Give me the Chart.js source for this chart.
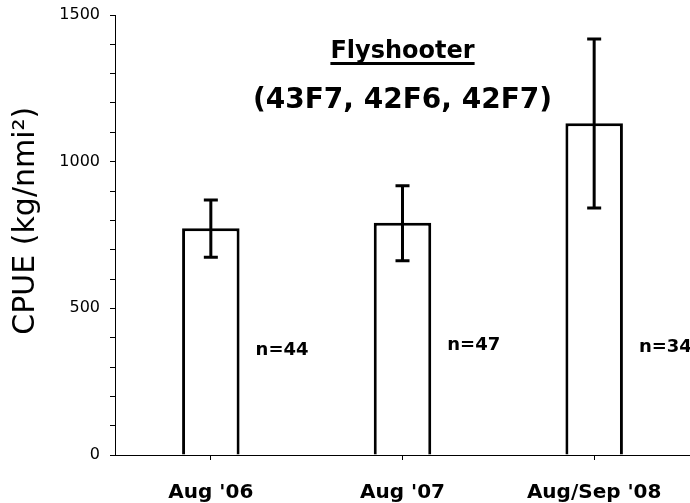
<!DOCTYPE html>
<html>
<head>
<meta charset="utf-8">
<script src="https://cdn.jsdelivr.net/npm/chart.js@4/dist/chart.umd.min.js"></script>
<style>
  html, body { margin: 0; padding: 0; background: #fff; }
  #wrap { width: 690px; height: 503px; }
</style>
</head>
<body>
<div id="wrap"><canvas id="c" width="690" height="503"></canvas></div>
<script>
const categories = ["Aug '06", "Aug '07", "Aug/Sep '08"];
const cpue = [773, 792, 1131];
const errLow = [674, 662, 842];
const errHigh = [869, 918, 1418];
const sampleSizes = [44, 47, 34];
const nLabelY = [358, 375, 366];
const titleLine1 = 'Flyshooter';
const titleLine2 = '(43F7, 42F6, 42F7)';
const yAxisTitle = 'CPUE (kg/nmi\u00B2)';
const yMin = 0, yMax = 1500, yMajor = 500, yMinor = 100;

const annot = {
  id: 'annot',
  afterDatasetsDraw(chart) {
    const { ctx, chartArea, scales: { x, y } } = chart;
    ctx.save();
    // error bars
    ctx.strokeStyle = '#000';
    ctx.lineWidth = 3;
    ctx.lineCap = 'butt';
    cpue.forEach((v, i) => {
      const px = x.getPixelForValue(i);
      const yl = y.getPixelForValue(errLow[i]);
      const yh = y.getPixelForValue(errHigh[i]);
      ctx.beginPath();
      ctx.moveTo(px, yl); ctx.lineTo(px, yh);
      ctx.moveTo(px - 7, yl); ctx.lineTo(px + 7, yl);
      ctx.moveTo(px - 7, yh); ctx.lineTo(px + 7, yh);
      ctx.stroke();
    });
    // sample sizes
    const meta = chart.getDatasetMeta(0);
    ctx.fillStyle = '#000';
    ctx.font = 'bold 18px "DejaVu Sans"';
    ctx.textAlign = 'left';
    ctx.textBaseline = 'middle';
    meta.data.forEach((bar, i) => {
      ctx.fillText('n=' + sampleSizes[i], bar.x + bar.width / 2 + 16, y.getPixelForValue(nLabelY[i]));
    });
    // title
    const cx = (chartArea.left + chartArea.right) / 2;
    ctx.textAlign = 'center';
    ctx.textBaseline = 'alphabetic';
    ctx.font = 'bold 24px "DejaVu Sans"';
    const ty1 = chartArea.top + 43;
    ctx.fillText(titleLine1, cx, ty1);
    const w = ctx.measureText(titleLine1).width;
    ctx.fillRect(cx - w / 2, ty1 + 4, w, 3);
    ctx.font = 'bold 28px "DejaVu Sans"';
    ctx.fillText(titleLine2, cx, chartArea.top + 93);
    ctx.restore();
  }
};

new Chart(document.getElementById('c'), {
  type: 'bar',
  data: {
    labels: categories,
    datasets: [{
      data: cpue,
      backgroundColor: '#fff',
      borderColor: '#000',
      borderWidth: 3,
      borderSkipped: 'start',
      barPercentage: 0.3,
      categoryPercentage: 1.0
    }]
  },
  options: {
    responsive: false,
    animation: false,
    devicePixelRatio: 1,
    layout: { padding: { top: 15, right: 0, bottom: 0, left: 0 } },
    plugins: { legend: { display: false }, tooltip: { enabled: false }, title: { display: false } },
    scales: {
      x: {
        type: 'category',
        offset: true,
        grid: { display: true, offset: false, drawOnChartArea: false, tickLength: 5, color: '#000', lineWidth: 1 },
        border: { display: true, color: '#000', width: 1 },
        ticks: { color: '#000', font: { family: 'DejaVu Sans', size: 20, weight: 'bold' }, padding: 21, maxRotation: 0, autoSkip: false },
        afterFit(s) { s.height = 48; }
      },
      y: {
        min: yMin, max: yMax,
        grid: { display: true, drawOnChartArea: false, tickLength: 5, color: '#000', lineWidth: 1 },
        border: { display: true, color: '#000', width: 1 },
        ticks: {
          stepSize: yMinor, autoSkip: false, color: '#000', padding: 10,
          font: { family: 'DejaVu Sans', size: 16, lineHeight: 0.6 },
          callback: v => (v % yMajor === 0 ? String(v) : '')
        },
        title: { display: true, text: '   ' + yAxisTitle, color: '#000', font: { family: 'DejaVu Sans', size: 30 }, padding: { top: 8, bottom: 0 } },
        afterFit(s) { s.width = 115; }
      }
    }
  },
  plugins: [annot]
});
</script>
</body>
</html>
